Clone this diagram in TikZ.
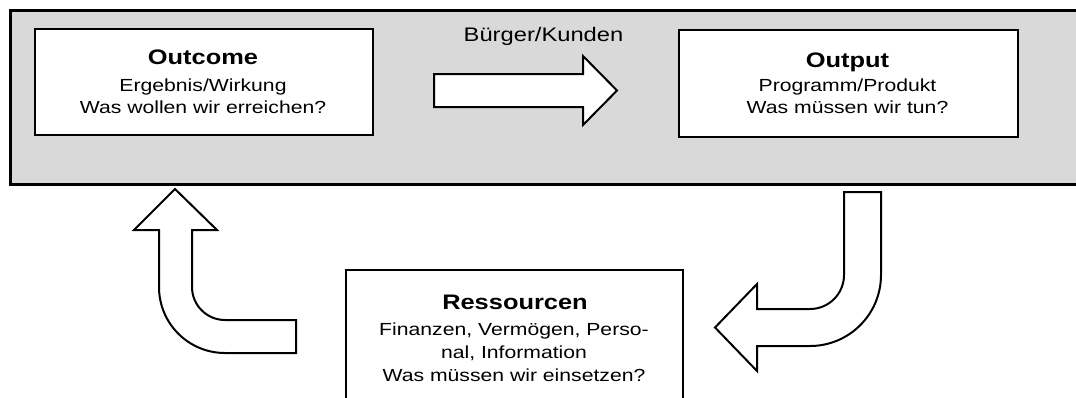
\documentclass[tikz,border=0pt]{standalone}
\usepackage{fontspec}
\setmainfont[FakeStretch=1.21]{Liberation Sans}
\definecolor{panelgray}{HTML}{D9D9D9}
\begin{document}
\begin{tikzpicture}[x=1pt,y=-1pt,
  panel/.style={draw=black,line width=2.6pt,fill=panelgray,inner sep=0pt,anchor=north west},
  box/.style={draw=black,line width=2pt,fill=white,inner sep=0pt,anchor=north west},
  blockarrow/.style={draw=black,line width=2pt,fill=white,line join=miter},
  title/.style={anchor=base,inner sep=0pt,font=\fontsize{21}{24}\selectfont\bfseries},
  body/.style={anchor=base,inner sep=0pt,font=\fontsize{17.5}{20}\selectfont},
  tag/.style={anchor=base,inner sep=0pt,font=\fontsize{19.6}{22}\selectfont}]
\useasboundingbox (0,0) rectangle (1076,397);
\clip (0,0) rectangle (1076,397);
% grey panel
\node[panel,minimum width=1090pt,minimum height=174pt] (panel) at (9,9) {};
% boxes
\node[box,minimum width=338pt,minimum height=106pt] (outcome) at (34,28) {};
\node[box,minimum width=339pt,minimum height=107pt] (output) at (678,29) {};
\node[box,minimum width=337pt,minimum height=140pt] (res) at (345,269) {};
% texts
\node[title] (t1) at (203,64.5) {Outcome};
\node[body] (t1a) at (203,91.5) {Ergebnis/Wirkung};
\node[body] (t1b) at (203,113.5) {Was wollen wir erreichen?};
\node[title] (t2) at (847.5,67) {Output};
\node[body] (t2a) at (847.5,91) {Programm/Produkt};
\node[body] (t2b) at (847.5,113.5) {Was müssen wir tun?};
\node[title] (t3) at (515,309) {Ressourcen};
\node[body] (t3a) at (514,335) {Finanzen, Vermögen, Perso-};
\node[body] (t3b) at (514,358) {nal, Information};
\node[body] (t3c) at (514,381) {Was müssen wir einsetzen?};
\node[tag] (lab) at (543.5,41.5) {Bürger/Kunden};
% right arrow
\draw[blockarrow] (434,74) -- (583,74) -- (583,56) -- (617,90.5) -- (583,125) -- (583,107) -- (434,107) -- cycle;
% up arrow (left)
\draw[blockarrow] (175,189) -- (217,230) -- (192,230) -- (192,287)
  .. controls (192,305.2) and (206.8,320) .. (225,320) -- (296,320) -- (296,353) -- (225,353)
  .. controls (188.5,353) and (159,323.5) .. (159,287) -- (159,230) -- (134,230) -- cycle;
% down-left arrow (right)
\draw[blockarrow] (844,192) -- (881,192) -- (881,275)
  .. controls (881,314.2) and (849.2,346) .. (810,346) -- (757,346) -- (757,371) -- (715,327.5)
  -- (757,284) -- (757,309) -- (810,309)
  .. controls (828.8,309) and (844,293.8) .. (844,275) -- cycle;
\end{tikzpicture}
\end{document}
